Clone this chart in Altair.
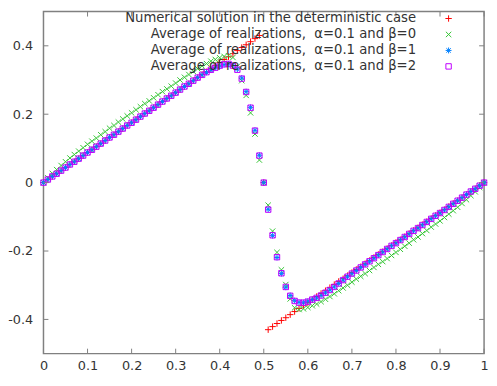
import altair as alt
import pandas as pd

# ---------------- data ----------------
x = [0.00, 0.01, 0.02, 0.03, 0.04, 0.05, 0.06, 0.07, 0.08, 0.09,
     0.10, 0.11, 0.12, 0.13, 0.14, 0.15, 0.16, 0.17, 0.18, 0.19,
     0.20, 0.21, 0.22, 0.23, 0.24, 0.25, 0.26, 0.27, 0.28, 0.29,
     0.30, 0.31, 0.32, 0.33, 0.34, 0.35, 0.36, 0.37, 0.38, 0.39,
     0.40, 0.41, 0.42, 0.43, 0.44, 0.45, 0.46, 0.47, 0.48, 0.49,
     0.50,
     0.51, 0.52, 0.53, 0.54, 0.55, 0.56, 0.57, 0.58, 0.59, 0.60,
     0.61, 0.62, 0.63, 0.64, 0.65, 0.66, 0.67, 0.68, 0.69, 0.70,
     0.71, 0.72, 0.73, 0.74, 0.75, 0.76, 0.77, 0.78, 0.79, 0.80,
     0.81, 0.82, 0.83, 0.84, 0.85, 0.86, 0.87, 0.88, 0.89, 0.90,
     0.91, 0.92, 0.93, 0.94, 0.95, 0.96, 0.97, 0.98, 0.99, 1.00]

deterministic = [
    0.000, 0.009, 0.018, 0.026, 0.035, 0.044, 0.053, 0.061, 0.070, 0.079,
    0.088, 0.096, 0.105, 0.114, 0.123, 0.132, 0.140, 0.149, 0.158, 0.167,
    0.175, 0.184, 0.193, 0.202, 0.210, 0.219, 0.228, 0.237, 0.246, 0.254,
    0.263, 0.272, 0.281, 0.289, 0.298, 0.307, 0.316, 0.324, 0.333, 0.342,
    0.351, 0.360, 0.368, 0.377, 0.386, 0.395, 0.403, 0.412, 0.421, 0.430,
    0.000,
    -0.430, -0.421, -0.412, -0.403, -0.395, -0.386, -0.377, -0.368, -0.360, -0.351,
    -0.342, -0.333, -0.324, -0.316, -0.307, -0.298, -0.289, -0.281, -0.272, -0.263,
    -0.254, -0.246, -0.237, -0.228, -0.219, -0.210, -0.202, -0.193, -0.184, -0.175,
    -0.167, -0.158, -0.149, -0.140, -0.132, -0.123, -0.114, -0.105, -0.096, -0.088,
    -0.079, -0.070, -0.061, -0.053, -0.044, -0.035, -0.026, -0.018, -0.009, 0.000]

beta0 = [
    0.000, 0.014, 0.027, 0.038, 0.050, 0.061, 0.072, 0.082, 0.092, 0.102,
    0.112, 0.121, 0.130, 0.140, 0.149, 0.159, 0.167, 0.177, 0.186, 0.195,
    0.204, 0.213, 0.222, 0.231, 0.239, 0.248, 0.257, 0.266, 0.274, 0.282,
    0.291, 0.300, 0.308, 0.316, 0.325, 0.333, 0.341, 0.348, 0.355, 0.360,
    0.365, 0.369, 0.371, 0.366, 0.340, 0.298, 0.255, 0.204, 0.142, 0.066,
    0.000,
    -0.066, -0.142, -0.204, -0.255, -0.298, -0.340, -0.366, -0.371, -0.369, -0.365,
    -0.360, -0.355, -0.348, -0.341, -0.333, -0.325, -0.316, -0.308, -0.300, -0.291,
    -0.282, -0.274, -0.266, -0.257, -0.248, -0.239, -0.231, -0.222, -0.213, -0.204,
    -0.195, -0.186, -0.177, -0.167, -0.159, -0.149, -0.140, -0.130, -0.121, -0.112,
    -0.102, -0.092, -0.082, -0.072, -0.061, -0.050, -0.038, -0.027, -0.014, 0.000]

beta1 = [
    0.000, 0.009, 0.018, 0.026, 0.035, 0.044, 0.053, 0.061, 0.070, 0.079,
    0.088, 0.096, 0.105, 0.114, 0.123, 0.132, 0.140, 0.149, 0.158, 0.167,
    0.175, 0.184, 0.193, 0.202, 0.210, 0.219, 0.228, 0.237, 0.246, 0.254,
    0.263, 0.272, 0.281, 0.289, 0.298, 0.307, 0.315, 0.322, 0.329, 0.336,
    0.341, 0.345, 0.347, 0.343, 0.332, 0.306, 0.266, 0.220, 0.153, 0.080,
    0.000,
    -0.078, -0.155, -0.219, -0.266, -0.306, -0.330, -0.345, -0.350, -0.351, -0.347,
    -0.342, -0.337, -0.330, -0.322, -0.314, -0.305, -0.295, -0.285, -0.275, -0.266,
    -0.257, -0.248, -0.239, -0.230, -0.221, -0.212, -0.203, -0.194, -0.185, -0.177,
    -0.168, -0.159, -0.150, -0.141, -0.133, -0.124, -0.115, -0.106, -0.097, -0.089,
    -0.080, -0.071, -0.062, -0.053, -0.044, -0.035, -0.026, -0.018, -0.009, 0.000]

beta2 = [
    0.000, 0.009, 0.018, 0.026, 0.035, 0.044, 0.053, 0.061, 0.070, 0.079,
    0.088, 0.096, 0.105, 0.114, 0.123, 0.132, 0.140, 0.149, 0.158, 0.167,
    0.175, 0.184, 0.193, 0.202, 0.210, 0.219, 0.228, 0.237, 0.246, 0.254,
    0.263, 0.272, 0.281, 0.289, 0.298, 0.307, 0.315, 0.323, 0.330, 0.336,
    0.342, 0.346, 0.347, 0.342, 0.330, 0.304, 0.265, 0.219, 0.152, 0.079,
    0.000,
    -0.079, -0.154, -0.218, -0.265, -0.305, -0.331, -0.346, -0.351, -0.351, -0.348,
    -0.342, -0.337, -0.330, -0.322, -0.314, -0.305, -0.295, -0.285, -0.275, -0.266,
    -0.257, -0.248, -0.239, -0.230, -0.221, -0.212, -0.203, -0.194, -0.185, -0.177,
    -0.168, -0.159, -0.150, -0.141, -0.133, -0.124, -0.115, -0.106, -0.097, -0.089,
    -0.080, -0.071, -0.062, -0.053, -0.044, -0.035, -0.026, -0.018, -0.009, 0.000]

names = [
    "Numerical solution in the deterministic case",
    "Average of realizations, \u00a0\u03b1=0.1 and \u03b2=0",
    "Average of realizations, \u00a0\u03b1=0.1 and \u03b2=1",
    "Average of realizations, \u00a0\u03b1=0.1 and \u03b2=2",
]
x_ticks = [0, 0.1, 0.2, 0.3, 0.4, 0.5, 0.6, 0.7, 0.8, 0.9, 1]
y_ticks = [-0.4, -0.2, 0, 0.2, 0.4]

# ---------------- styling ----------------
colors = ["#ff0000", "#33c433", "#0080ff", "#c000ff"]
shapes = [
    "M-1,0L1,0M0,-1L0,1",                                   # +
    "M-1,-1L1,1M-1,1L1,-1",                                 # x
    "M-1,0L1,0M0,-1L0,1M-0.75,-0.75L0.75,0.75M-0.75,0.75L0.75,-0.75",  # *
    "M-1,-1L1,-1L1,1L-1,1Z",                                # open square
]
sizes = [42, 30, 36, 30]

W, H = 447, 347
FRAME = "#808080"
TXT = "#333333"
FONT = "DejaVu Sans"
FS = 13

xscale = alt.Scale(domain=[0, 1], nice=False, zero=False)
yscale = alt.Scale(domain=[-0.5, 0.5], nice=False, zero=False)
xaxis = alt.Axis(values=x_ticks, labelExpr="'' + datum.value", domain=False,
                 ticks=False, tickSize=0, grid=False, labelPadding=6,
                 labelFlush=False, labelOverlap=False, labelFont=FONT,
                 labelFontSize=FS, labelColor=TXT, title=None)
yaxis = alt.Axis(values=y_ticks, labelExpr="'' + datum.value", domain=False,
                 ticks=False, tickSize=0, grid=False, labelPadding=11,
                 labelFlush=False, labelOverlap=False, labelFont=FONT,
                 labelFontSize=FS, labelColor=TXT, title=None)

all_series = [deterministic, beta0, beta1, beta2]
frames = []
for i, ys in enumerate(all_series):
    frames.append(pd.DataFrame({"x": x, "y": ys, "s": i}))
df = pd.concat(frames, ignore_index=True)

layers = []
for i in range(4):
    layers.append(
        alt.Chart(df)
        .transform_filter(f"datum.s == {i}")
        .mark_point(shape=shapes[i], filled=False, color=colors[i],
                    size=sizes[i], strokeWidth=1, opacity=1)
        .encode(x=alt.X("x:Q", scale=xscale, axis=xaxis),
                y=alt.Y("y:Q", scale=yscale, axis=yaxis))
    )

# inward ticks on all four sides (gnuplot style)
xt = pd.DataFrame({"t": x_ticks})
yt = pd.DataFrame({"t": y_ticks})
TL = 5
tick_layers = [
    alt.Chart(xt).mark_rule(color=FRAME, strokeWidth=1).encode(
        x=alt.X("t:Q", scale=xscale, axis=xaxis), y=alt.value(H), y2=alt.value(H - TL)),
    alt.Chart(xt).mark_rule(color=FRAME, strokeWidth=1).encode(
        x=alt.X("t:Q", scale=xscale, axis=xaxis), y=alt.value(0), y2=alt.value(TL)),
    alt.Chart(yt).mark_rule(color=FRAME, strokeWidth=1).encode(
        y=alt.Y("t:Q", scale=yscale, axis=yaxis), x=alt.value(0), x2=alt.value(TL)),
    alt.Chart(yt).mark_rule(color=FRAME, strokeWidth=1).encode(
        y=alt.Y("t:Q", scale=yscale, axis=yaxis), x=alt.value(W), x2=alt.value(W - TL)),
]

# key in the top-right corner: right-aligned text, symbol to its right
legend_layers = []
for i, name in enumerate(names):
    ly = 7 + 16.2 * i
    ldf = pd.DataFrame({"label": [name]})
    legend_layers.append(
        alt.Chart(ldf).mark_text(align="right", baseline="middle", font=FONT,
                                 fontSize=13.4, color=TXT)
        .encode(x=alt.value(378), y=alt.value(ly), text="label:N")
    )
    legend_layers.append(
        alt.Chart(ldf).mark_point(shape=shapes[i], filled=False, color=colors[i],
                                  size=sizes[i], strokeWidth=1, opacity=1)
        .encode(x=alt.value(411), y=alt.value(ly))
    )

chart = (
    alt.layer(*layers, *tick_layers, *legend_layers)
    .properties(width=W, height=H,
                autosize=alt.AutoSizeParams(type="none"),
                padding={"left": 36, "top": 1, "right": 5, "bottom": 17},
                background="white")
    .configure_view(stroke=FRAME, strokeWidth=1.5)
)

chart.save("out.html", embed_options={"renderer": "svg", "actions": False})
